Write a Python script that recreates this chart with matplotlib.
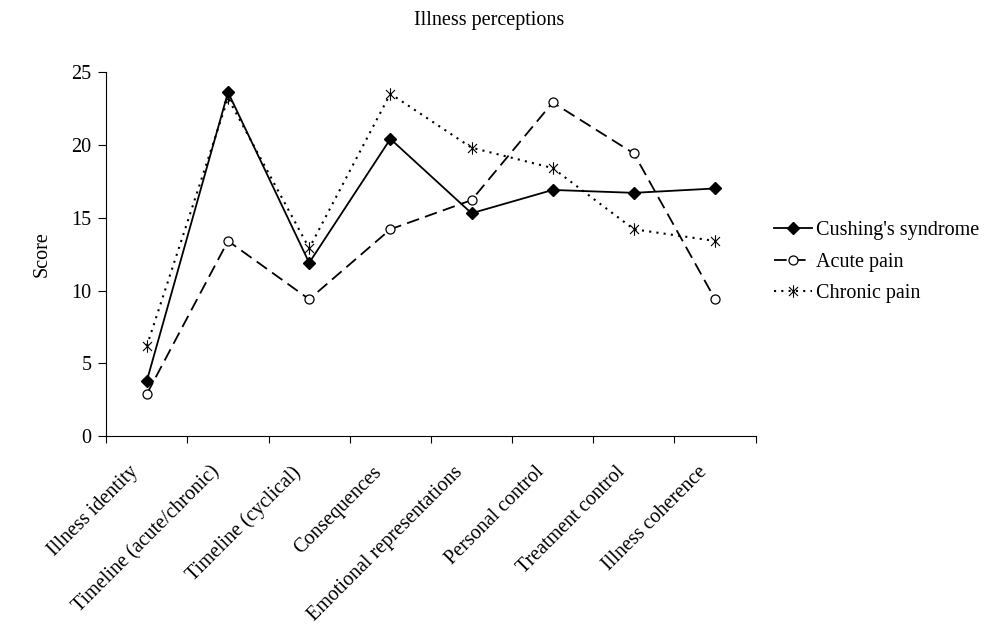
import matplotlib
matplotlib.use("Agg")
import matplotlib.pyplot as plt
import matplotlib.transforms as mtransforms
from matplotlib.path import Path
import numpy as np

plt.rcParams['font.family'] = ['Liberation Serif', 'DejaVu Serif']

categories = ["Illness identity", "Timeline (acute/chronic)", "Timeline (cyclical)",
              "Consequences", "Emotional representations", "Personal control",
              "Treatment control", "Illness coherence"]
cushings = [3.8, 23.6, 11.9, 20.4, 15.3, 16.9, 16.7, 17.0]
acute = [2.9, 13.4, 9.4, 14.2, 16.2, 22.9, 19.4, 9.4]
chronic = [6.2, 23.2, 12.9, 23.5, 19.8, 18.4, 14.2, 13.4]
y_ticks = [0, 5, 10, 15, 20, 25]

fs = 14.5

# asterisk marker: a vertical stroke plus an X
d = 0.72
star = Path([(0, -1), (0, 1), (-d, -d), (d, d), (-d, d), (d, -d)],
            [Path.MOVETO, Path.LINETO, Path.MOVETO, Path.LINETO,
             Path.MOVETO, Path.LINETO])

fig = plt.figure(figsize=(9.93, 6.25), dpi=100)
ax = fig.add_axes([0.107, 0.302, 0.654, 0.583])

x = np.arange(len(categories))

ax.plot(x, cushings, color='black', linestyle='-', linewidth=1.3,
        marker='D', markersize=6, markerfacecolor='black',
        label="Cushing's syndrome")
ax.plot(x, acute, color='black', linestyle=(0, (7, 3.5)), linewidth=1.3,
        marker='o', markersize=6.5, markerfacecolor='white',
        markeredgewidth=0.9, label="Acute pain")
ax.plot(x, chronic, color='black', linestyle=(0, (1, 2.5)), linewidth=1.5,
        marker=star, markersize=9, markeredgewidth=0.8,
        label="Chronic pain")

ax.set_xlim(-0.5, len(categories) - 0.5)
ax.set_ylim(0, 25)
ax.set_yticks(y_ticks)
ax.set_xticks(np.arange(len(categories) + 1) - 0.5)
ax.set_xticklabels([])
ax.set_xticks(x, minor=True)
ax.set_xticklabels(categories, minor=True, rotation=45, ha='right',
                   va='top', rotation_mode='anchor', fontsize=fs)
ax.tick_params(axis='x', which='minor', length=0, pad=19)
ax.tick_params(axis='x', which='major', direction='out', length=5, width=0.8)
ax.tick_params(axis='y', direction='out', length=6, width=0.8, labelsize=fs, pad=4.5)

# nudge the rotated labels so their ends sit left of the category centre
offset = mtransforms.ScaledTranslation(-18 / 100, 0, fig.dpi_scale_trans)
for lbl in ax.get_xticklabels(minor=True):
    lbl.set_transform(lbl.get_transform() + offset)

for side in ['top', 'right']:
    ax.spines[side].set_visible(False)
for side in ['left', 'bottom']:
    ax.spines[side].set_linewidth(0.8)

ax.set_ylabel("Score", fontsize=fs, labelpad=14)
fig.text(0.493, 0.968, "Illness perceptions", ha='center', va='center', fontsize=fs)

ax.legend(loc='center left', bbox_to_anchor=(1.0, 0.478), frameon=False,
          fontsize=fs, handlelength=1.9, handletextpad=0.2, labelspacing=0.6)

fig.savefig("out.png", dpi=100)
